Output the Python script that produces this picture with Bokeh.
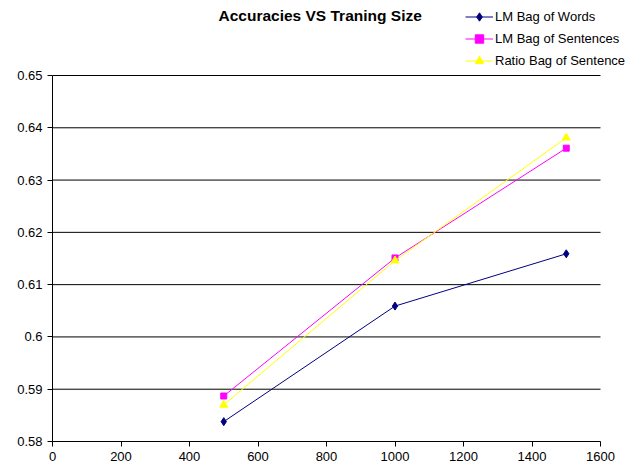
from bokeh.plotting import figure
from bokeh.models import (Range1d, FixedTicker, CustomJSTickFormatter, Legend, LegendItem, Label)
from bokeh.embed import file_html
from bokeh.resources import INLINE

# Data
training_size = [500, 1000, 1500]
lm_bag_of_words = [0.5838, 0.6059, 0.6159]
lm_bag_of_sentences = [0.5887, 0.6151, 0.6361]
ratio_bag_of_sentence = [0.5870, 0.6146, 0.6381]
x_ticks = [0, 200, 400, 600, 800, 1000, 1200, 1400, 1600]
y_ticks = [0.58, 0.59, 0.60, 0.61, 0.62, 0.63, 0.64, 0.65]
title_text = "Accuracies VS Traning Size"
series_names = ["LM Bag of Words", "LM Bag of Sentences", "Ratio Bag of Sentence"]

FONT = "Liberation Sans"

W, H = 627, 466
LEFT, BOTTOM = 52, 25          # borders (px)
PLOT_TOP_PX, PLOT_RIGHT_PX = 75, 600   # where the axes' extent ends (px from top-left)
frame_w = W - LEFT
frame_h = H - BOTTOM
# extend the ranges so the axes' nominal extent sits inside a larger frame
y0, y1 = y_ticks[0], y_ticks[-1]
x0, x1 = x_ticks[0], x_ticks[-1]
y_per_px = (y1 - y0) / (frame_h - PLOT_TOP_PX)
x_per_px = (x1 - x0) / (PLOT_RIGHT_PX - LEFT)
y_end = y1 + PLOT_TOP_PX * y_per_px
x_end = x0 + frame_w * x_per_px

p = figure(width=W, height=H, output_backend="svg", toolbar_location=None,
           x_range=Range1d(x0, x_end), y_range=Range1d(y0, y_end),
           min_border_left=LEFT, min_border_right=0, min_border_top=0, min_border_bottom=BOTTOM)
p.outline_line_color = None
p.background_fill_color = "white"
p.border_fill_color = "white"

# axes
for ax in (p.xaxis[0], p.yaxis[0]):
    ax.axis_line_color = "black"
    ax.major_tick_line_color = "black"
    ax.major_tick_out = 5
    ax.major_tick_in = 0
    ax.minor_tick_line_color = None
    ax.major_label_text_font = FONT
    ax.major_label_text_font_size = "13px"
    ax.major_label_text_color = "black"
p.xaxis[0].ticker = FixedTicker(ticks=x_ticks)
p.yaxis[0].ticker = FixedTicker(ticks=y_ticks)
p.xaxis[0].bounds = (x0, x1)
p.yaxis[0].bounds = (y0, y1)
p.yaxis[0].formatter = CustomJSTickFormatter(code="return parseFloat(tick.toFixed(2)).toString();")
p.xaxis[0].major_label_standoff = 5
p.yaxis[0].major_label_standoff = 5

p.xgrid.grid_line_color = None
p.ygrid.grid_line_color = None
# horizontal gridlines limited to the axis extent
p.segment(x0=[x0] * len(y_ticks), x1=[x1] * len(y_ticks), y0=y_ticks, y1=y_ticks,
          line_color="black", line_width=1)

# series
r1l = p.line(training_size, lm_bag_of_words, line_color="#000080", line_width=1)
r1m = p.scatter(training_size, lm_bag_of_words, marker="diamond", size=8,
                fill_color="#000080", line_color="#000080")
r2l = p.line(training_size, lm_bag_of_sentences, line_color="#FF00FF", line_width=1)
r2m = p.scatter(training_size, lm_bag_of_sentences, marker="square", size=6,
                fill_color="#FF00FF", line_color="#FF00FF")
r3l = p.line(training_size, ratio_bag_of_sentence, line_color="#FFFF00", line_width=1)
r3m = p.scatter(training_size, ratio_bag_of_sentence, marker="triangle", size=8,
                fill_color="#FFFF00", line_color="#FFFF00")

legend = Legend(items=[
    LegendItem(label=series_names[0], renderers=[r1l, r1m]),
    LegendItem(label=series_names[1], renderers=[r2l, r2m]),
    LegendItem(label=series_names[2], renderers=[r3l, r3m]),
], location=(413, 370))
legend.background_fill_alpha = 0
legend.border_line_color = None
legend.padding = 0
legend.margin = 0
legend.spacing = 1
legend.glyph_width = 28
legend.glyph_height = 21
legend.label_height = 21
legend.label_standoff = 2
legend.label_text_font = FONT
legend.label_text_font_size = "13px"
legend.label_text_color = "black"
p.add_layout(legend, "center")

title = Label(x=166, y=frame_h - 15, x_units="screen", y_units="screen", text=title_text,
              text_font=FONT, text_font_size="15.5px", text_font_style="bold",
              text_color="black", text_baseline="middle", text_align="left")
p.add_layout(title)

open("out.html", "w").write(file_html(p, INLINE))
